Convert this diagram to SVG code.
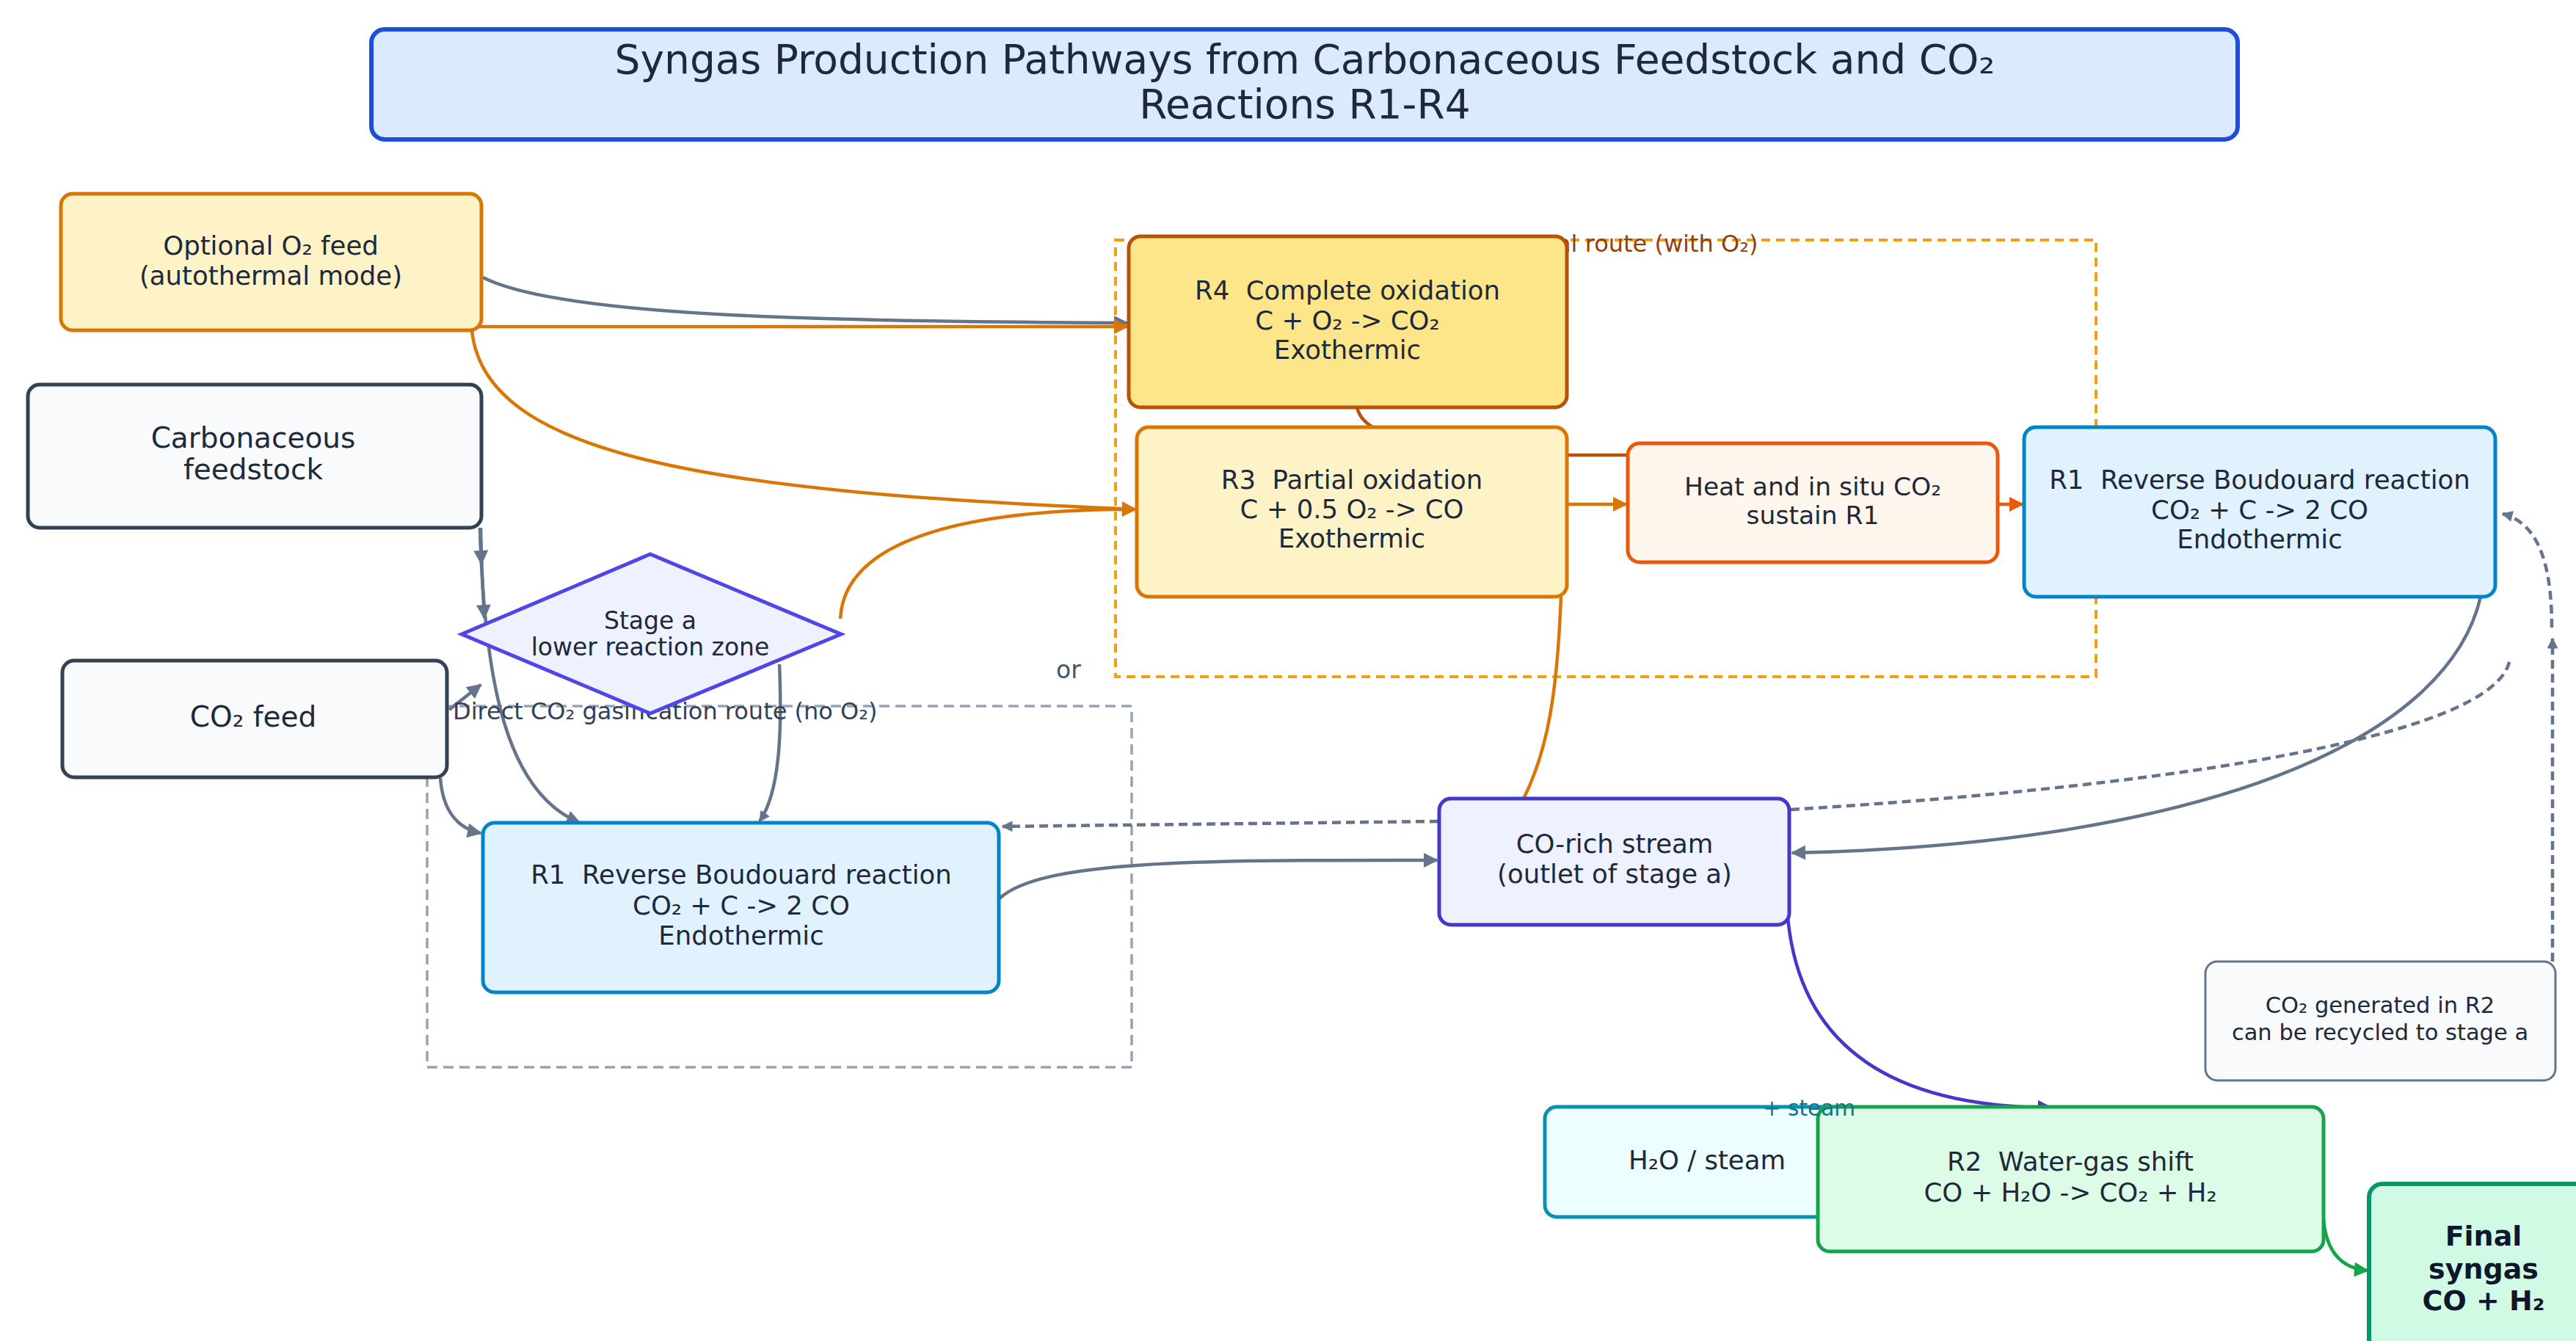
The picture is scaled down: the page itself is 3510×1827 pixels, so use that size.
<svg xmlns="http://www.w3.org/2000/svg" width="3510" height="1827" viewBox="0 0 3510 1827">
<defs>
<style>
text{font-family:"DejaVu Sans","Liberation Sans",sans-serif;fill:#1e293b;white-space:pre}
.t{font-size:35.5px;text-anchor:middle}
.tl{font-size:39px;text-anchor:middle}
.ts{font-size:33px;text-anchor:middle}
.tn{font-size:30.5px;text-anchor:middle}
.tb{font-size:38px;font-weight:bold;text-anchor:middle;fill:#0f172a}
.title{font-size:55px;text-anchor:middle}
.node{stroke-width:5}
.c{fill:none;stroke-width:4.5}
.gray{stroke:#64748b}
.org{stroke:#d97706}
.dash{stroke-dasharray:12 7}
</style>
<marker id="ag" viewBox="0 0 10 10" refX="9" refY="5" markerWidth="22" markerHeight="20" markerUnits="userSpaceOnUse" orient="auto"><path d="M0,0 L10,5 L0,10 z" fill="#64748b"/></marker>
<marker id="ags" viewBox="0 0 10 10" refX="9" refY="5" markerWidth="17" markerHeight="15" markerUnits="userSpaceOnUse" orient="auto"><path d="M0,0 L10,5 L0,10 z" fill="#64748b"/></marker>
<marker id="ao" viewBox="0 0 10 10" refX="9" refY="5" markerWidth="22" markerHeight="20" markerUnits="userSpaceOnUse" orient="auto"><path d="M0,0 L10,5 L0,10 z" fill="#d97706"/></marker>
<marker id="ar" viewBox="0 0 10 10" refX="9" refY="5" markerWidth="22" markerHeight="20" markerUnits="userSpaceOnUse" orient="auto"><path d="M0,0 L10,5 L0,10 z" fill="#ea580c"/></marker>
<marker id="ai" viewBox="0 0 10 10" refX="9" refY="5" markerWidth="22" markerHeight="20" markerUnits="userSpaceOnUse" orient="auto"><path d="M0,0 L10,5 L0,10 z" fill="#4338ca"/></marker>
<marker id="agr" viewBox="0 0 10 10" refX="9" refY="5" markerWidth="22" markerHeight="20" markerUnits="userSpaceOnUse" orient="auto"><path d="M0,0 L10,5 L0,10 z" fill="#16a34a"/></marker>
</defs>
<rect width="3510" height="1827" fill="#ffffff"/>

<g id="title">
<rect x="506" y="40" width="2543" height="150" rx="18" fill="#dbeafe" stroke="#1d4ed8" stroke-width="6"/>
<text class="title" x="1778" y="100">Syngas Production Pathways from Carbonaceous Feedstock and CO₂</text>
<text class="title" x="1778" y="161">Reactions R1-R4</text>
</g>

<g id="group-direct">
<rect x="582" y="962" width="960" height="492" fill="none" stroke="#94a3b8" stroke-width="3.5" stroke-dasharray="14 8"/>
</g>
<g id="group-oxidative">
<rect x="1520" y="327" width="1336" height="595" fill="none" stroke="#f59e0b" stroke-width="4" stroke-dasharray="12 8"/>
</g>

<g id="connectors">
<path class="c gray" d="M658,378 C760,430 1100,438 1536,440" marker-end="url(#ag)"/>
<path class="c org" d="M645,445 L1536,445" marker-end="url(#ao)"/>
<path class="c org" d="M643,450 C660,620 960,670 1547,694" marker-end="url(#ao)"/>
<path class="c org" d="M1145,843 C1150,740 1300,694 1547,694" marker-end="url(#ao)"/>
<path class="c gray" d="M654,719 L656,768" marker-end="url(#ag)"/>
<path class="c gray" d="M655,719 C656,770 658,810 660,842" marker-end="url(#ag)"/>
<path class="c gray" d="M654,719 C660,930 690,1080 790,1121" marker-end="url(#ag)"/>
<path class="c gray" d="M1062,905 C1066,1000 1062,1080 1035,1119" marker-end="url(#ags)"/>
<path class="c gray" d="M612,967 L655,933" marker-end="url(#ag)"/>
<path class="c gray" d="M600,1060 C603,1100 620,1128 655,1135" marker-end="url(#ag)"/>
<path class="c gray" stroke-width="5.5" d="M1362,1224 C1420,1170 1650,1172 1958,1172" marker-end="url(#ag)"/>
<path class="c gray dash" stroke-width="3" d="M1960,1119 L1366,1126" marker-end="url(#ags)"/>
<path class="c org" stroke-width="4" d="M2127,813 C2122,940 2110,1020 2076,1088"/>
<path class="c" stroke="#b45309" stroke-width="4" d="M1849,555 C1852,568 1860,576 1872,583"/>
<path class="c" stroke="#b45309" stroke-width="4" d="M2135,620 L2220,620"/>
<path class="c org" d="M2135,687 L2216,687" marker-end="url(#ao)"/>
<path class="c" stroke="#ea580c" d="M2722,687 L2756,687" marker-end="url(#ar)"/>
<path class="c gray" stroke-width="5.5" d="M3380,813 C3335,1010 3000,1150 2442,1162" marker-end="url(#ag)"/>
<path class="c gray dash" stroke-width="3" d="M2440,1103 C2900,1075 3410,1010 3420,896"/>
<path class="c gray dash" stroke-width="3" d="M3478,1310 L3478,870" marker-end="url(#ags)"/>
<path class="c gray dash" stroke-width="3" d="M3477,855 C3477,760 3455,712 3410,700" marker-end="url(#ags)"/>
<path class="c" stroke="#4338ca" d="M2436,1250 C2452,1420 2570,1508 2795,1509" marker-end="url(#ai)"/>
<path class="c" stroke="#16a34a" d="M3166,1662 C3170,1705 3190,1728 3226,1731" marker-end="url(#agr)"/>
</g>

<g id="label-direct"><text x="617" y="980" style="font-size:32px;fill:#334155">Direct CO₂ gasification route (no O₂)</text></g>
<g id="label-oxidative"><text x="2121" y="343" style="font-size:32px;fill:#92400e">al route (with O₂)</text></g>
<g id="label-or"><text x="1456" y="924" style="font-size:33px;fill:#475569;text-anchor:middle">or</text></g>

<g id="o2feed">
<rect class="node" x="83" y="264" width="573" height="186" rx="16" fill="#fef3c7" stroke="#d97706"/>
<text class="t" x="369" y="347">Optional O₂ feed</text>
<text class="t" x="369" y="388">(autothermal mode)</text>
</g>
<g id="feedstock">
<rect class="node" x="38" y="524" width="618" height="195" rx="16" fill="#f8fafc" stroke="#334155"/>
<text class="tl" x="345" y="610">Carbonaceous</text>
<text class="tl" x="345" y="653">feedstock</text>
</g>
<g id="co2feed">
<rect class="node" x="85" y="900" width="524" height="159" rx="16" fill="#f8fafc" stroke="#334155"/>
<text class="tl" x="345" y="990">CO₂ feed</text>
</g>
<g id="stagea">
<polygon class="node" points="629,864 886,755 1146,864 886,972" fill="#eef2ff" stroke="#4f46e5"/>
<text class="ts" x="886" y="857">Stage a</text>
<text class="ts" x="886" y="893">lower reaction zone</text>
</g>
<g id="r1-lower">
<rect class="node" x="658" y="1121" width="703" height="231" rx="16" fill="#e0f2fe" stroke="#0284c7"/>
<text class="t" x="1010" y="1204">R1  Reverse Boudouard reaction</text>
<text class="t" x="1010" y="1246">CO₂ + C -&gt; 2 CO</text>
<text class="t" x="1010" y="1287">Endothermic</text>
</g>
<g id="r4">
<rect class="node" x="1538" y="322" width="597" height="233" rx="16" fill="#fde68a" stroke="#b45309"/>
<text class="t" x="1836" y="408">R4  Complete oxidation</text>
<text class="t" x="1836" y="449">C + O₂ -&gt; CO₂</text>
<text class="t" x="1836" y="489">Exothermic</text>
</g>
<g id="r3">
<rect class="node" x="1549" y="582" width="586" height="231" rx="16" fill="#fef3c7" stroke="#d97706"/>
<text class="t" x="1842" y="666">R3  Partial oxidation</text>
<text class="t" x="1842" y="706">C + 0.5 O₂ -&gt; CO</text>
<text class="t" x="1842" y="746">Exothermic</text>
</g>
<g id="heat">
<rect class="node" x="2218" y="604" width="504" height="162" rx="16" fill="#fff7ed" stroke="#ea580c"/>
<text x="2470" y="675" style="font-size:34.5px;text-anchor:middle">Heat and in situ CO₂</text>
<text x="2470" y="714" style="font-size:34.5px;text-anchor:middle">sustain R1</text>
</g>
<g id="r1-upper">
<rect class="node" x="2758" y="582" width="642" height="231" rx="16" fill="#e0f2fe" stroke="#0284c7"/>
<text class="t" x="3079" y="666">R1  Reverse Boudouard reaction</text>
<text class="t" x="3079" y="707">CO₂ + C -&gt; 2 CO</text>
<text class="t" x="3079" y="747">Endothermic</text>
</g>
<g id="corich">
<rect class="node" x="1961" y="1088" width="477" height="172" rx="16" fill="#eef2ff" stroke="#4338ca"/>
<text class="t" x="2200" y="1162">CO-rich stream</text>
<text class="t" x="2200" y="1203">(outlet of stage a)</text>
</g>
<g id="note">
<rect x="3005" y="1310" width="477" height="162" rx="16" fill="#f8fafc" stroke="#64748b" stroke-width="3"/>
<text class="tn" x="3243" y="1380">CO₂ generated in R2</text>
<text class="tn" x="3243" y="1417">can be recycled to stage a</text>
</g>
<g id="h2o">
<rect class="node" x="2105" y="1508" width="420" height="150" rx="16" fill="#ecfeff" stroke="#0891b2"/>
<text class="t" x="2326" y="1593">H₂O / steam</text>
</g>
<g id="r2">
<rect class="node" x="2477" y="1508" width="689" height="197" rx="16" fill="#dcfce7" stroke="#16a34a"/>
<text class="t" x="2821" y="1595">R2  Water-gas shift</text>
<text class="t" x="2821" y="1637">CO + H₂O -&gt; CO₂ + H₂</text>
</g>
<g id="label-steam"><text x="2402" y="1520" style="font-size:29.5px;fill:#0e7490">+ steam</text></g>
<g id="final">
<rect x="3228" y="1613" width="330" height="260" rx="18" fill="#d1fae5" stroke="#059669" stroke-width="6"/>
<text class="tb" x="3384" y="1697">Final</text>
<text class="tb" x="3384" y="1742">syngas</text>
<text class="tb" x="3384" y="1785">CO + H₂</text>
</g>
</svg>
